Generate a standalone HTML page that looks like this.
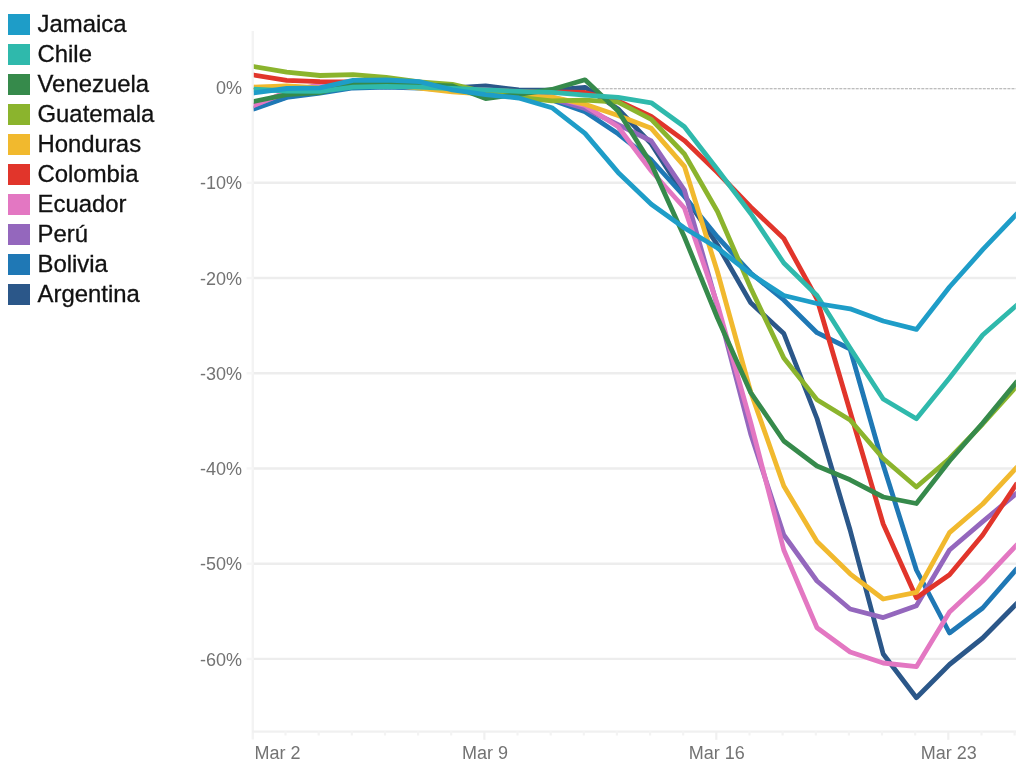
<!DOCTYPE html>
<html><head><meta charset="utf-8"><title>Chart</title>
<style>
html,body{margin:0;padding:0;background:#fff;}
body{width:1024px;height:768px;overflow:hidden;position:relative;font-family:"Liberation Sans",Arial,sans-serif;}
.leg{position:absolute;left:0;top:0;}
.it{position:absolute;left:8px;height:30px;white-space:nowrap;}
.sw{position:absolute;left:0;top:0;width:22px;height:21.2px;}
.lb{position:absolute;left:29.5px;top:-4.5px;font-size:23.9px;line-height:30px;color:#111;-webkit-text-stroke:0.3px #111;}
svg{position:absolute;left:0;top:0;}
.ax{font-family:"Liberation Sans",Arial,sans-serif;font-size:18px;fill:#737373;}
</style></head><body>
<div class="leg">
<div class="it" style="top:13.5px"><span class="sw" style="background:#1e9dc8"></span><span class="lb">Jamaica</span></div>
<div class="it" style="top:43.5px"><span class="sw" style="background:#2fb9ac"></span><span class="lb">Chile</span></div>
<div class="it" style="top:73.5px"><span class="sw" style="background:#368a4b"></span><span class="lb">Venezuela</span></div>
<div class="it" style="top:103.5px"><span class="sw" style="background:#8bb42d"></span><span class="lb">Guatemala</span></div>
<div class="it" style="top:133.5px"><span class="sw" style="background:#f1b92e"></span><span class="lb">Honduras</span></div>
<div class="it" style="top:163.5px"><span class="sw" style="background:#e1352b"></span><span class="lb">Colombia</span></div>
<div class="it" style="top:193.5px"><span class="sw" style="background:#e377c2"></span><span class="lb">Ecuador</span></div>
<div class="it" style="top:223.5px"><span class="sw" style="background:#9467bd"></span><span class="lb">Perú</span></div>
<div class="it" style="top:253.5px"><span class="sw" style="background:#1f78b5"></span><span class="lb">Bolivia</span></div>
<div class="it" style="top:283.5px"><span class="sw" style="background:#2b5789"></span><span class="lb">Argentina</span></div>
</div>
<svg width="1024" height="768" viewBox="0 0 1024 768">
<defs><clipPath id="cp"><rect x="253.8" y="0" width="762.1" height="768"/></clipPath></defs>
<line x1="253" x2="1016" y1="182.82" y2="182.82" stroke="#ededed" stroke-width="2.4"/>
<line x1="253" x2="1016" y1="278.04" y2="278.04" stroke="#ededed" stroke-width="2.4"/>
<line x1="253" x2="1016" y1="373.26" y2="373.26" stroke="#ededed" stroke-width="2.4"/>
<line x1="253" x2="1016" y1="468.48" y2="468.48" stroke="#ededed" stroke-width="2.4"/>
<line x1="253" x2="1016" y1="563.70" y2="563.70" stroke="#ededed" stroke-width="2.4"/>
<line x1="253" x2="1016" y1="658.92" y2="658.92" stroke="#ededed" stroke-width="2.4"/>
<line x1="252.8" x2="252.8" y1="31" y2="739.5" stroke="#f3f3f3" stroke-width="2.4"/>
<line x1="246.5" x2="253" y1="182.82" y2="182.82" stroke="#f6f6f6" stroke-width="2.4"/>
<line x1="246.5" x2="253" y1="278.04" y2="278.04" stroke="#f6f6f6" stroke-width="2.4"/>
<line x1="246.5" x2="253" y1="373.26" y2="373.26" stroke="#f6f6f6" stroke-width="2.4"/>
<line x1="246.5" x2="253" y1="468.48" y2="468.48" stroke="#f6f6f6" stroke-width="2.4"/>
<line x1="246.5" x2="253" y1="563.70" y2="563.70" stroke="#f6f6f6" stroke-width="2.4"/>
<line x1="246.5" x2="253" y1="658.92" y2="658.92" stroke="#f6f6f6" stroke-width="2.4"/>
<line x1="252" x2="1016" y1="731.6" y2="731.6" stroke="#f0f0f0" stroke-width="2.4"/>
<line x1="285.5" x2="285.5" y1="731" y2="735.5" stroke="#f3f3f3" stroke-width="2.2"/>
<line x1="318.7" x2="318.7" y1="731" y2="735.5" stroke="#f3f3f3" stroke-width="2.2"/>
<line x1="351.8" x2="351.8" y1="731" y2="735.5" stroke="#f3f3f3" stroke-width="2.2"/>
<line x1="385.0" x2="385.0" y1="731" y2="735.5" stroke="#f3f3f3" stroke-width="2.2"/>
<line x1="418.1" x2="418.1" y1="731" y2="735.5" stroke="#f3f3f3" stroke-width="2.2"/>
<line x1="451.2" x2="451.2" y1="731" y2="735.5" stroke="#f3f3f3" stroke-width="2.2"/>
<line x1="484.4" x2="484.4" y1="731" y2="739.8" stroke="#f0f0f0" stroke-width="2.2"/>
<line x1="517.5" x2="517.5" y1="731" y2="735.5" stroke="#f3f3f3" stroke-width="2.2"/>
<line x1="550.7" x2="550.7" y1="731" y2="735.5" stroke="#f3f3f3" stroke-width="2.2"/>
<line x1="583.8" x2="583.8" y1="731" y2="735.5" stroke="#f3f3f3" stroke-width="2.2"/>
<line x1="616.9" x2="616.9" y1="731" y2="735.5" stroke="#f3f3f3" stroke-width="2.2"/>
<line x1="650.1" x2="650.1" y1="731" y2="735.5" stroke="#f3f3f3" stroke-width="2.2"/>
<line x1="683.2" x2="683.2" y1="731" y2="735.5" stroke="#f3f3f3" stroke-width="2.2"/>
<line x1="716.3" x2="716.3" y1="731" y2="739.8" stroke="#f0f0f0" stroke-width="2.2"/>
<line x1="749.5" x2="749.5" y1="731" y2="735.5" stroke="#f3f3f3" stroke-width="2.2"/>
<line x1="782.6" x2="782.6" y1="731" y2="735.5" stroke="#f3f3f3" stroke-width="2.2"/>
<line x1="815.8" x2="815.8" y1="731" y2="735.5" stroke="#f3f3f3" stroke-width="2.2"/>
<line x1="848.9" x2="848.9" y1="731" y2="735.5" stroke="#f3f3f3" stroke-width="2.2"/>
<line x1="882.0" x2="882.0" y1="731" y2="735.5" stroke="#f3f3f3" stroke-width="2.2"/>
<line x1="915.2" x2="915.2" y1="731" y2="735.5" stroke="#f3f3f3" stroke-width="2.2"/>
<line x1="948.3" x2="948.3" y1="731" y2="739.8" stroke="#f0f0f0" stroke-width="2.2"/>
<line x1="981.5" x2="981.5" y1="731" y2="735.5" stroke="#f3f3f3" stroke-width="2.2"/>
<line x1="1014.6" x2="1014.6" y1="731" y2="735.5" stroke="#f3f3f3" stroke-width="2.2"/>
<line x1="253" x2="1016" y1="88.8" y2="88.8" stroke="#a8a8a8" stroke-width="1.1" stroke-dasharray="3,1.1"/>
<text class="ax" x="242" y="94.2" text-anchor="end">0%</text>
<text class="ax" x="242" y="189.4" text-anchor="end">-10%</text>
<text class="ax" x="242" y="284.6" text-anchor="end">-20%</text>
<text class="ax" x="242" y="379.9" text-anchor="end">-30%</text>
<text class="ax" x="242" y="475.1" text-anchor="end">-40%</text>
<text class="ax" x="242" y="570.3" text-anchor="end">-50%</text>
<text class="ax" x="242" y="665.5" text-anchor="end">-60%</text>
<text class="ax" x="254.6" y="758.9">Mar 2</text>
<text class="ax" x="484.9" y="758.9" text-anchor="middle">Mar 9</text>
<text class="ax" x="716.8" y="758.9" text-anchor="middle">Mar 16</text>
<text class="ax" x="948.8" y="758.9" text-anchor="middle">Mar 23</text>
<g fill="none" stroke-width="4.8" stroke-linejoin="round" stroke-linecap="square" clip-path="url(#cp)">
<polyline stroke="#2b5789" points="253.6,108.0 286.7,97.0 319.9,92.0 353.0,87.0 386.2,86.0 419.3,87.0 452.4,88.0 485.6,85.8 518.7,90.0 551.9,90.2 585.0,87.3 618.1,109.0 651.3,143.9 684.4,195.5 717.5,245.0 750.7,302.8 783.8,333.5 817.0,418.5 850.1,530.0 883.2,654.0 916.4,697.7 949.5,664.5 982.7,638.0 1015.8,604.5"/>
<polyline stroke="#1f78b5" points="253.6,109.0 286.7,97.4 319.9,93.0 353.0,88.0 386.2,87.0 419.3,88.0 452.4,90.0 485.6,91.0 518.7,94.0 551.9,100.0 585.0,111.7 618.1,133.8 651.3,160.0 684.4,196.5 717.5,237.0 750.7,273.0 783.8,300.0 817.0,332.7 850.1,349.0 883.2,465.0 916.4,570.0 949.5,633.0 982.7,608.0 1015.8,570.0"/>
<polyline stroke="#9467bd" points="253.6,105.0 286.7,93.0 319.9,88.0 353.0,85.0 386.2,86.0 419.3,87.5 452.4,89.5 485.6,90.5 518.7,93.0 551.9,99.0 585.0,108.5 618.1,124.6 651.3,141.0 684.4,190.0 717.5,306.5 750.7,434.0 783.8,535.0 817.0,581.0 850.1,609.0 883.2,617.6 916.4,605.7 949.5,550.0 982.7,521.6 1015.8,494.0"/>
<polyline stroke="#e377c2" points="253.6,105.6 286.7,92.0 319.9,84.5 353.0,84.0 386.2,85.0 419.3,87.0 452.4,89.0 485.6,90.0 518.7,92.0 551.9,97.0 585.0,105.5 618.1,126.7 651.3,171.0 684.4,208.0 717.5,304.5 750.7,422.4 783.8,550.0 817.0,627.8 850.1,652.0 883.2,663.0 916.4,666.7 949.5,612.0 982.7,581.0 1015.8,546.0"/>
<polyline stroke="#e1352b" points="253.6,75.0 286.7,80.4 319.9,81.7 353.0,82.0 386.2,83.0 419.3,85.0 452.4,88.0 485.6,90.5 518.7,91.5 551.9,92.0 585.0,92.5 618.1,101.0 651.3,116.5 684.4,140.6 717.5,172.5 750.7,207.0 783.8,238.5 817.0,299.0 850.1,411.5 883.2,524.0 916.4,597.7 949.5,574.7 982.7,535.0 1015.8,485.0"/>
<polyline stroke="#f1b92e" points="253.6,87.1 286.7,86.0 319.9,88.0 353.0,85.0 386.2,84.5 419.3,88.0 452.4,91.8 485.6,94.0 518.7,96.0 551.9,97.1 585.0,104.2 618.1,115.5 651.3,128.3 684.4,166.3 717.5,272.0 750.7,392.0 783.8,486.0 817.0,541.5 850.1,573.8 883.2,599.0 916.4,592.4 949.5,532.6 982.7,504.0 1015.8,468.5"/>
<polyline stroke="#8bb42d" points="253.6,66.5 286.7,72.2 319.9,75.5 353.0,74.6 386.2,77.3 419.3,82.0 452.4,84.4 485.6,92.0 518.7,97.5 551.9,100.8 585.0,100.1 618.1,102.2 651.3,119.3 684.4,154.0 717.5,211.5 750.7,288.0 783.8,358.0 817.0,399.7 850.1,420.0 883.2,458.5 916.4,487.0 949.5,458.5 982.7,424.0 1015.8,387.0"/>
<polyline stroke="#368a4b" points="253.6,101.5 286.7,94.6 319.9,92.6 353.0,83.7 386.2,83.4 419.3,85.0 452.4,86.0 485.6,98.6 518.7,94.3 551.9,89.5 585.0,79.8 618.1,111.0 651.3,164.0 684.4,237.0 717.5,318.0 750.7,392.5 783.8,441.0 817.0,466.0 850.1,479.8 883.2,497.0 916.4,503.5 949.5,461.0 982.7,423.0 1015.8,383.0"/>
<polyline stroke="#2fb9ac" points="253.6,89.2 286.7,91.0 319.9,91.3 353.0,87.1 386.2,86.4 419.3,87.1 452.4,88.5 485.6,89.9 518.7,91.3 551.9,92.4 585.0,95.2 618.1,97.3 651.3,102.8 684.4,126.7 717.5,169.5 750.7,213.5 783.8,263.0 817.0,295.5 850.1,348.0 883.2,399.0 916.4,418.8 949.5,378.0 982.7,335.0 1015.8,306.0"/>
<polyline stroke="#1e9dc8" points="253.6,93.0 286.7,88.5 319.9,87.8 353.0,80.3 386.2,80.0 419.3,81.7 452.4,89.9 485.6,94.6 518.7,98.0 551.9,107.7 585.0,133.4 618.1,172.4 651.3,204.3 684.4,228.0 717.5,248.0 750.7,274.0 783.8,295.5 817.0,303.5 850.1,308.8 883.2,321.0 916.4,329.4 949.5,287.0 982.7,249.7 1015.8,215.0"/>
</g></svg></body></html>
